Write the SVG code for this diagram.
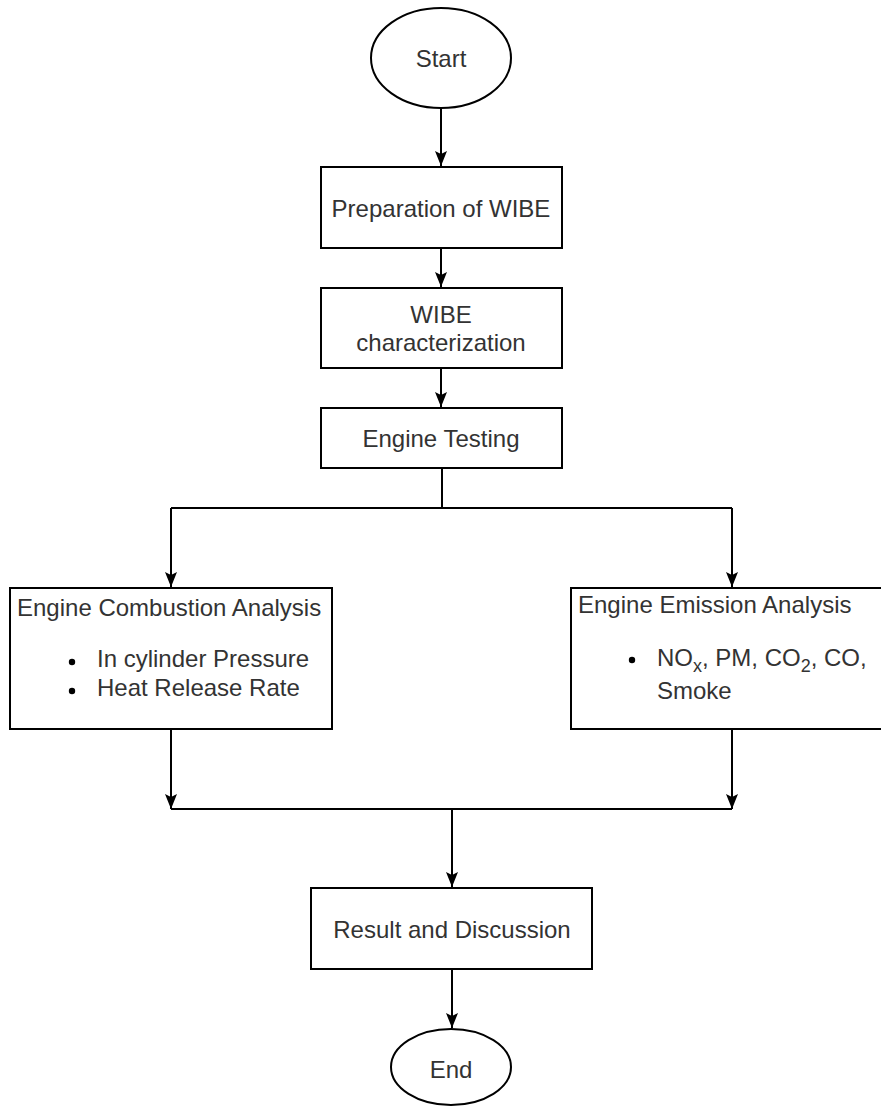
<svg xmlns="http://www.w3.org/2000/svg" width="881" height="1106" viewBox="0 0 881 1106">
<style>
.shape{fill:#fff;stroke:#000;stroke-width:2}
.t{font-family:"Liberation Sans",Arial,sans-serif;font-size:24px;fill:#333}
.c{text-anchor:middle}
.edge{fill:none;stroke:#000;stroke-width:2}
</style>
<defs>
<marker id="arr" markerUnits="userSpaceOnUse" markerWidth="20" markerHeight="20" viewBox="0 0 20 20" refX="16" refY="10" orient="auto">
<path d="M1,4 L16,10 L1,16 L4,10 z" fill="#000"/>
</marker>
</defs>
<rect width="881" height="1106" fill="#fff"/>
<g id="connectors">
<path class="edge" d="M441,108 V166" marker-end="url(#arr)"/>
<path class="edge" d="M441,248 V287" marker-end="url(#arr)"/>
<path class="edge" d="M441,368 V407" marker-end="url(#arr)"/>
<path class="edge" d="M442,468 V508"/>
<path class="edge" d="M171,508 H732"/>
<path class="edge" d="M171,508 V587" marker-end="url(#arr)"/>
<path class="edge" d="M732,508 V587" marker-end="url(#arr)"/>
<path class="edge" d="M171,729 V809" marker-end="url(#arr)"/>
<path class="edge" d="M732,729 V809" marker-end="url(#arr)"/>
<path class="edge" d="M171,809 H732"/>
<path class="edge" d="M452,809 V887" marker-end="url(#arr)"/>
<path class="edge" d="M452,969 V1028" marker-end="url(#arr)"/>
</g>
<g id="start">
<ellipse class="shape" cx="441" cy="58" rx="70" ry="50"/>
<text class="t c" x="441" y="67">Start</text>
</g>
<g id="prep">
<rect class="shape" x="321" y="167" width="241" height="81"/>
<text class="t c" x="441" y="217">Preparation of WIBE</text>
</g>
<g id="char">
<rect class="shape" x="321" y="288" width="241" height="80"/>
<text class="t c" x="441" y="323">WIBE</text>
<text class="t c" x="441" y="351">characterization</text>
</g>
<g id="testing">
<rect class="shape" x="321" y="408" width="241" height="60"/>
<text class="t c" x="441" y="447">Engine Testing</text>
</g>
<g id="combustion">
<rect class="shape" x="10" y="588" width="322" height="141"/>
<text class="t" x="17" y="616">Engine Combustion Analysis</text>
<circle cx="72" cy="662" r="3.2" fill="#000"/>
<circle cx="72" cy="691" r="3.2" fill="#000"/>
<text class="t" x="97" y="667">In cylinder Pressure</text>
<text class="t" x="97" y="696">Heat Release Rate</text>
</g>
<g id="emission">
<rect class="shape" x="571" y="588" width="322" height="141"/>
<text class="t" x="578" y="613">Engine Emission Analysis</text>
<circle cx="632" cy="660" r="3.2" fill="#000"/>
<text class="t" x="657" y="666">NO<tspan font-size="18" dy="6">x</tspan><tspan dy="-6">, PM, CO</tspan><tspan font-size="18" dy="6">2</tspan><tspan dy="-6">, CO,</tspan></text>
<text class="t" x="657" y="699">Smoke</text>
</g>
<g id="result">
<rect class="shape" x="311" y="888" width="281" height="81"/>
<text class="t c" x="452" y="938">Result and Discussion</text>
</g>
<g id="end">
<ellipse class="shape" cx="451" cy="1067" rx="60" ry="38"/>
<text class="t c" x="451" y="1078">End</text>
</g>
</svg>
